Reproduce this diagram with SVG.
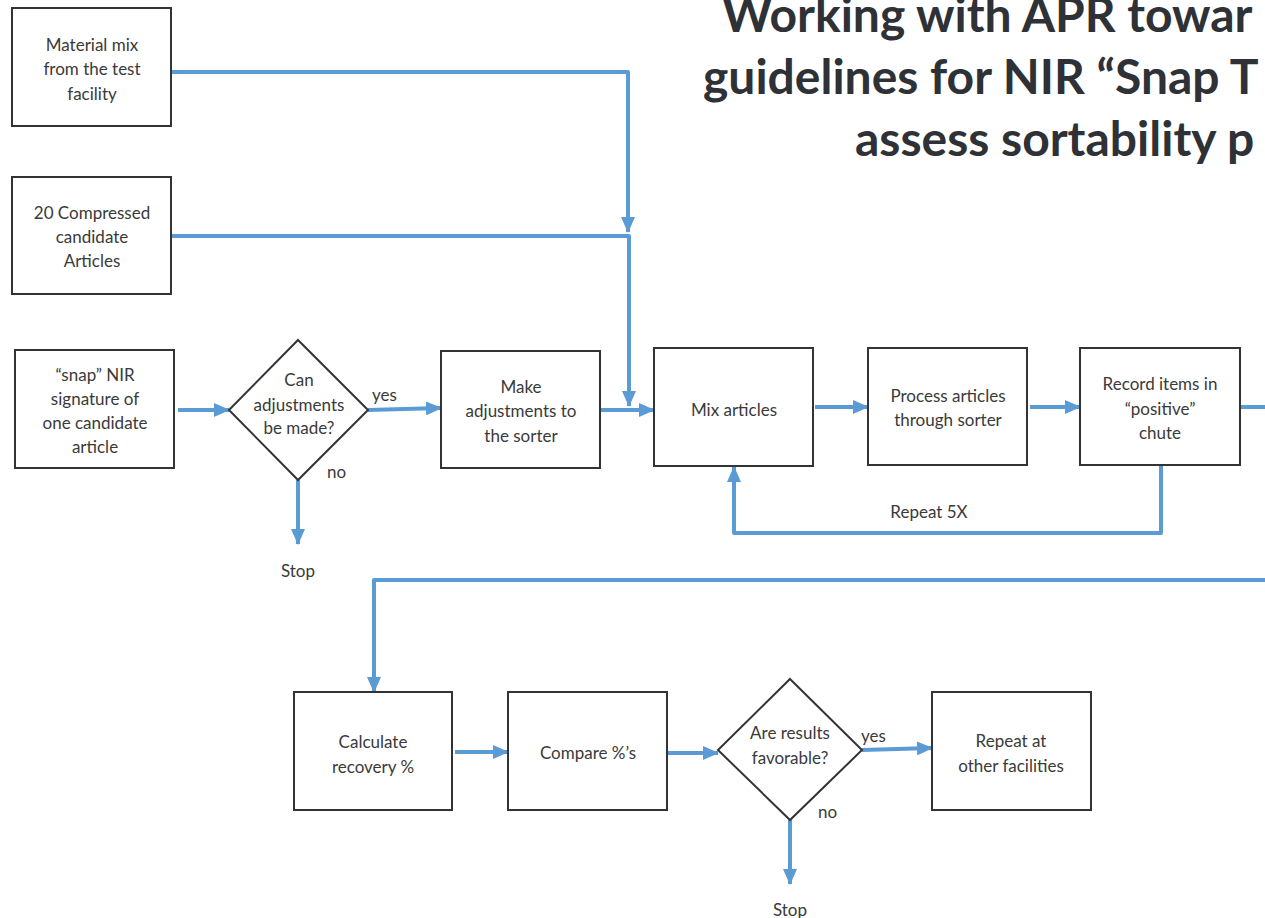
<svg xmlns="http://www.w3.org/2000/svg" width="1265" height="918" viewBox="0 0 1265 918">
<style>
.box{fill:#fff;stroke:#333;stroke-width:2}
.t{font-family:Lato,"Open Sans",sans-serif;font-size:17px;fill:#3a3a3a;text-anchor:middle}
.l{font-family:Lato,"Open Sans",sans-serif;font-size:17px;fill:#3a3a3a}
.c{fill:none;stroke:#5b9bd5;stroke-width:4;stroke-linejoin:round}
.title{font-family:Lato,"Open Sans",sans-serif;font-weight:bold;font-size:48px;fill:#2e3135}
</style>
<defs>
<marker id="ah" markerUnits="userSpaceOnUse" markerWidth="16" markerHeight="14" refX="15" refY="7" orient="auto">
<path d="M0,0 L16,7 L0,14 Z" fill="#5b9bd5"/>
</marker>
</defs>
<g id="title">
<text class="title" x="722" y="32">Working with APR towar</text>
<text class="title" x="703" y="94">guidelines for NIR “Snap T</text>
<text class="title" x="855" y="156">assess sortability p</text>
</g>
<g id="connectors">
<path class="c" d="M171,72 H628 V232" marker-end="url(#ah)"/>
<path class="c" d="M171,236 H629 V406" marker-end="url(#ah)"/>
<path class="c" d="M178,410 H229" marker-end="url(#ah)"/>
<path class="c" d="M368,410 L441,408" marker-end="url(#ah)"/>
<path class="c" d="M298,480 V544" marker-end="url(#ah)"/>
<path class="c" d="M601,410 H654" marker-end="url(#ah)"/>
<path class="c" d="M815,407 H868" marker-end="url(#ah)"/>
<path class="c" d="M1030,407 H1080" marker-end="url(#ah)"/>
<path class="c" d="M1241,407 H1267"/>
<path class="c" d="M1161,465 V533 H734 V467" marker-end="url(#ah)"/>
<path class="c" d="M1267,580 H374 V692" marker-end="url(#ah)"/>
<path class="c" d="M455,752 H508" marker-end="url(#ah)"/>
<path class="c" d="M668,753 H718" marker-end="url(#ah)"/>
<path class="c" d="M862,750 L932,748" marker-end="url(#ah)"/>
<path class="c" d="M790,820 V884" marker-end="url(#ah)"/>
</g>
<g id="n_material">
<rect class="box" x="12" y="8" width="159" height="118"/>
<text class="t" x="92" y="51">Material mix</text>
<text class="t" x="92" y="75">from the test</text>
<text class="t" x="92" y="100">facility</text>
</g>
<g id="n_compressed">
<rect class="box" x="12" y="177" width="159" height="117"/>
<text class="t" x="92" y="219">20 Compressed</text>
<text class="t" x="92" y="243">candidate</text>
<text class="t" x="92" y="267">Articles</text>
</g>
<g id="n_snap">
<rect class="box" x="15" y="350" width="159" height="118"/>
<text class="t" x="95" y="381">“snap” NIR</text>
<text class="t" x="95" y="405">signature of</text>
<text class="t" x="95" y="429">one candidate</text>
<text class="t" x="95" y="453">article</text>
</g>
<g id="n_can">
<polygon class="box" points="298,340 368,410 298,480 229,410"/>
<text class="t" x="299" y="386">Can</text>
<text class="t" x="299" y="411">adjustments</text>
<text class="t" x="299" y="434">be made?</text>
<text class="l" x="372" y="401">yes</text>
<text class="l" x="327" y="478">no</text>
<text class="t" x="298" y="577">Stop</text>
</g>
<g id="n_make">
<rect class="box" x="441" y="351" width="159" height="117"/>
<text class="t" x="521" y="393">Make</text>
<text class="t" x="521" y="417">adjustments to</text>
<text class="t" x="521" y="442">the sorter</text>
</g>
<g id="n_mix">
<rect class="box" x="654" y="348" width="159" height="118"/>
<text class="t" x="734" y="416">Mix articles</text>
</g>
<g id="n_process">
<rect class="box" x="868" y="348" width="159" height="117"/>
<text class="t" x="948" y="402">Process articles</text>
<text class="t" x="948" y="426">through sorter</text>
</g>
<g id="n_record">
<rect class="box" x="1080" y="348" width="160" height="117"/>
<text class="t" x="1160" y="390">Record items in</text>
<text class="t" x="1160" y="415">“positive”</text>
<text class="t" x="1160" y="439">chute</text>
</g>
<g id="repeat_label">
<text class="t" x="929" y="518">Repeat 5X</text>
</g>
<g id="n_calc">
<rect class="box" x="294" y="692" width="158" height="118"/>
<text class="t" x="373" y="748">Calculate</text>
<text class="t" x="373" y="773">recovery %</text>
</g>
<g id="n_compare">
<rect class="box" x="508" y="692" width="159" height="118"/>
<text class="t" x="588" y="759">Compare %’s</text>
</g>
<g id="n_fav">
<polygon class="box" points="790,679 862,750 790,820 718,750"/>
<text class="t" x="790" y="739">Are results</text>
<text class="t" x="790" y="764">favorable?</text>
<text class="l" x="861" y="742">yes</text>
<text class="l" x="818" y="818">no</text>
<text class="t" x="790" y="916">Stop</text>
</g>
<g id="n_repeat">
<rect class="box" x="932" y="692" width="159" height="118"/>
<text class="t" x="1011" y="747">Repeat at</text>
<text class="t" x="1011" y="772">other facilities</text>
</g>
</svg>
